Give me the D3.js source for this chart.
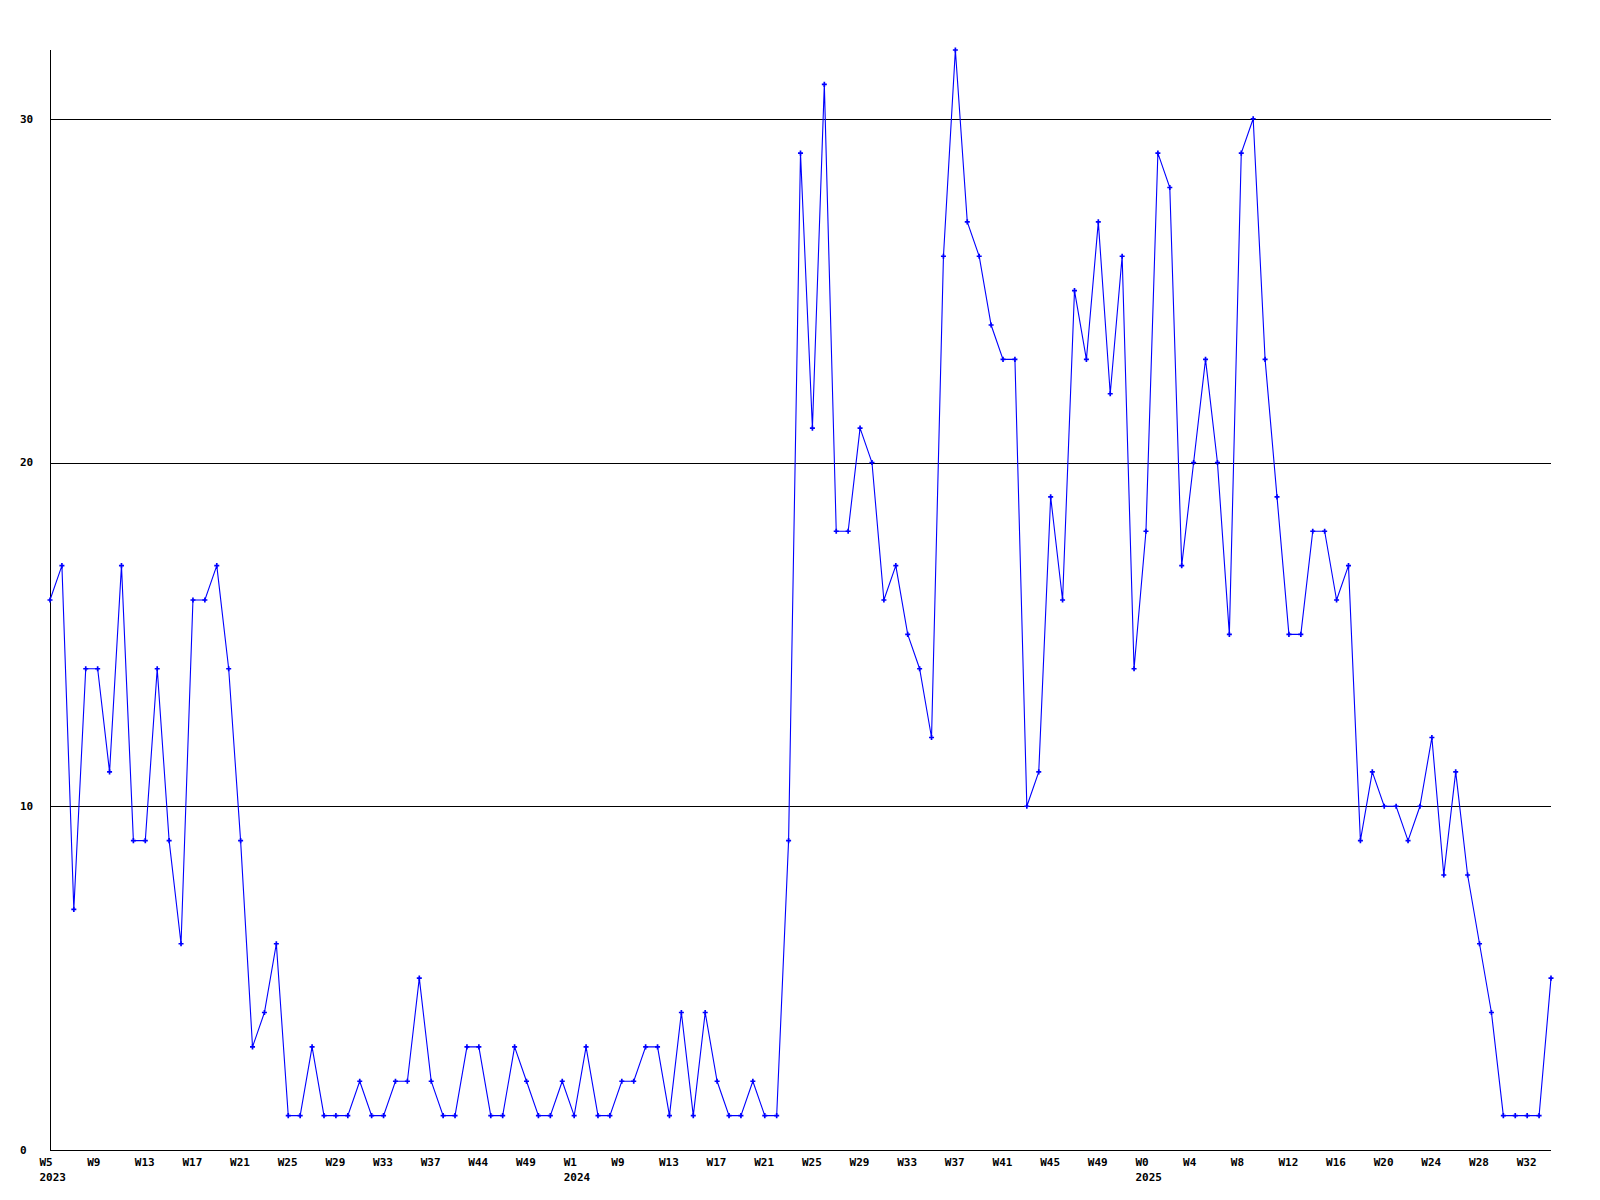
<!DOCTYPE html>
<html>
<head>
<meta charset="utf-8">
<script src="https://cdn.jsdelivr.net/npm/d3@7/dist/d3.min.js"></script>
<style>
  html, body { margin: 0; padding: 0; background: #ffffff; }
  svg { display: block; }
  text { font-family: "DejaVu Sans Mono", "Liberation Mono", monospace; font-weight: bold; font-size: 11px; fill: #000; }
</style>
</head>
<body>
<svg id="chart" width="1600" height="1200"></svg>
<script>
// Weekly values, one per week, starting 2023 W5
const values = [
  16, 17, 7, 14, 14, 11, 17, 9, 9, 14, 9, 6, 16, 16, 17, 14, 9, 3, 4, 6,
  1, 1, 3, 1, 1, 1, 2, 1, 1, 2, 2, 5, 2, 1, 1, 3, 3, 1, 1, 3,
  2, 1, 1, 2, 1, 3, 1, 1, 2, 2, 3, 3, 1, 4, 1, 4, 2, 1, 1, 2,
  1, 1, 9, 29, 21, 31, 18, 18, 21, 20, 16, 17, 15, 14, 12, 26, 32, 27, 26, 24,
  23, 23, 10, 11, 19, 16, 25, 23, 27, 22, 26, 14, 18, 29, 28, 17, 20, 23, 20, 15,
  29, 30, 23, 19, 15, 15, 18, 18, 16, 17, 9, 11, 10, 10, 9, 10, 12, 8, 11, 8,
  6, 4, 1, 1, 1, 1, 5
];

// X tick labels (one every 4 weeks) and the year shown under some of them
const tickLabels = [
  "W5", "W9", "W13", "W17", "W21", "W25", "W29", "W33", "W37", "W44", "W49",
  "W1", "W9", "W13", "W17", "W21", "W25", "W29", "W33", "W37", "W41", "W45", "W49",
  "W0", "W4", "W8", "W12", "W16", "W20", "W24", "W28", "W32"
];
const tickYears = [
  "2023", "", "", "", "", "", "", "", "", "", "",
  "2024", "", "", "", "", "", "", "", "", "", "", "",
  "2025", "", "", "", "", "", "", "", ""
];
const tickStep = 4;

// Y axis
const yMax = 32;
const yTicks = [0, 10, 20, 30];

const svg = d3.select("#chart");
const mLeft = 50, mRight = 1551, mTop = 50, mBottom = 1150;

const x = d3.scaleLinear().domain([0, values.length - 1]).range([mLeft, mRight]);
const y = d3.scaleLinear().domain([0, yMax]).range([mBottom, mTop]);

// gridlines (not 0)
svg.append("g").selectAll("line")
  .data(yTicks.filter(d => d > 0))
  .join("line")
  .attr("x1", mLeft).attr("x2", mRight)
  .attr("y1", d => Math.round(y(d)) + 0.5).attr("y2", d => Math.round(y(d)) + 0.5)
  .attr("stroke", "#000").attr("stroke-width", 1)
  .attr("shape-rendering", "crispEdges");

// axes lines
svg.append("line")
  .attr("x1", mLeft + 0.5).attr("x2", mLeft + 0.5)
  .attr("y1", mTop).attr("y2", mBottom + 0.5)
  .attr("stroke", "#000").attr("shape-rendering", "crispEdges");
svg.append("line")
  .attr("x1", mLeft).attr("x2", mRight)
  .attr("y1", mBottom + 0.5).attr("y2", mBottom + 0.5)
  .attr("stroke", "#000").attr("shape-rendering", "crispEdges");

// y labels
svg.append("g").selectAll("text")
  .data(yTicks)
  .join("text")
  .attr("x", 20)
  .attr("y", d => y(d))
  .attr("dy", "0.36em")
  .text(d => d);

// x labels
const xl = svg.append("g");
xl.selectAll("text.w")
  .data(tickLabels)
  .join("text")
  .attr("class", "w")
  .attr("x", (d, i) => x(i * tickStep) - 10.5)
  .attr("y", 1166)
  .text(d => d);
xl.selectAll("text.yr")
  .data(tickYears)
  .join("text")
  .attr("class", "yr")
  .attr("x", (d, i) => x(i * tickStep) - 10.5)
  .attr("y", 1181)
  .text(d => d);

// line
const line = d3.line()
  .x((d, i) => x(i))
  .y(d => y(d));
svg.append("path")
  .datum(values)
  .attr("d", line)
  .attr("fill", "none")
  .attr("stroke", "#0000ff")
  .attr("stroke-width", 1.1);

// markers
const sym = d3.symbol().type(d3.symbolCross).size(14);
svg.append("g").selectAll("path")
  .data(values)
  .join("path")
  .attr("transform", (d, i) => `translate(${x(i)},${y(d)})`)
  .attr("d", sym)
  .attr("fill", "#0000ff");
</script>
</body>
</html>
